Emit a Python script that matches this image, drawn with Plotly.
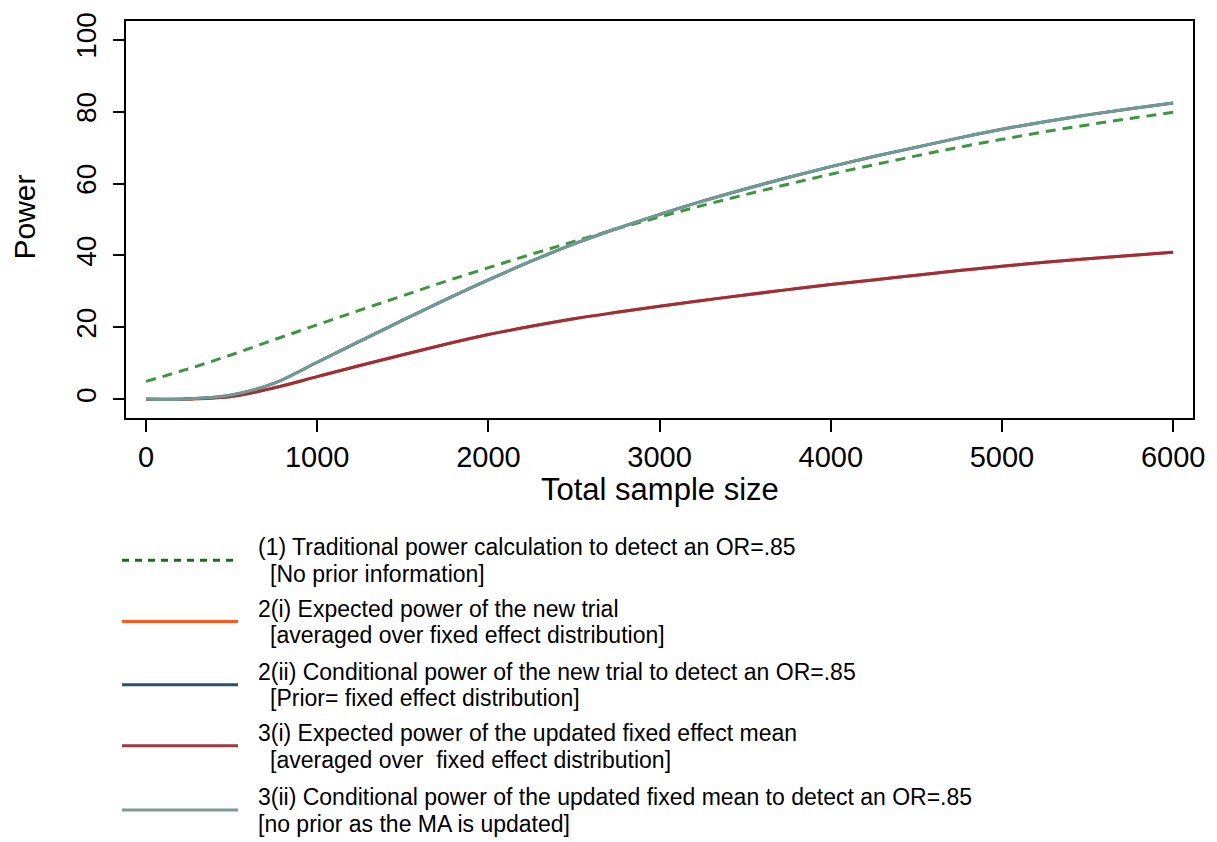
import plotly.graph_objects as go

# Total sample size grid
sample_size = [0, 250, 500, 750, 1000, 1250, 1500, 1750, 2000, 2250, 2500, 2750,
               3000, 3250, 3500, 3750, 4000, 4250, 4500, 4750, 5000, 5250, 5500,
               5750, 6000]

# (1) Traditional power calculation, OR=.85
power_traditional = [5.0, 8.5, 12.4, 16.6, 20.7, 24.8, 28.8, 32.8, 36.6, 40.3, 43.9,
                     47.4, 50.7, 53.9, 56.9, 59.8, 62.6, 65.2, 67.7, 70.1, 72.3,
                     74.4, 76.3, 78.1, 79.8]

# 2(i) / 3(i) expected power (averaged over fixed effect distribution)
power_expected = [0.0, 0.1, 0.8, 3.2, 6.3, 9.4, 12.4, 15.3, 18.0, 20.3, 22.4, 24.2,
                  25.9, 27.5, 29.0, 30.5, 31.9, 33.2, 34.5, 35.8, 37.0, 38.1, 39.1,
                  40.0, 40.9]

# 2(ii) / 3(ii) conditional power to detect OR=.85
power_conditional = [0.0, 0.1, 1.2, 4.5, 10.3, 16.2, 22.0, 27.7, 33.2, 38.4, 43.2,
                     47.5, 51.4, 55.1, 58.5, 61.7, 64.7, 67.5, 70.1, 72.7, 75.1,
                     77.2, 79.1, 80.8, 82.4]

y_ticks = [0, 20, 40, 60, 80, 100]
x_ticks = [0, 1000, 2000, 3000, 4000, 5000, 6000]

legend_rows = [
    ("(1) Traditional power calculation to detect an OR=.85", "[No prior information]", True),
    ("2(i) Expected power of the new trial", "[averaged over fixed effect distribution]", True),
    ("2(ii) Conditional power of the new trial to detect an OR=.85", "[Prior= fixed effect distribution]", True),
    ("3(i) Expected power of the updated fixed effect mean", "[averaged over  fixed effect distribution]", True),
    ("3(ii) Conditional power of the updated fixed mean to detect an OR=.85", "[no prior as the MA is updated]", False),
]
legend_colors = ["#1e6b1e", "#ff5a1f", "#2b4e78", "#9a3a45", "#7a9c94"]
legend_dash = ["7px,6px", "solid", "solid", "solid", "solid"]

FONT = "Liberation Sans, Arial, sans-serif"
W, H = 1217, 842
L, R, T, B = 126, 1193, 16, 418   # plot area in pixels


def px_x(px):
    return (px - L) / (R - L)


def px_y(py):
    return (B - py) / (B - T)


fig = go.Figure()

fig.add_trace(go.Scatter(x=sample_size, y=power_expected, mode="lines",
                         line=dict(color="#ff5a1f", width=3, shape="spline"),
                         showlegend=False, name="2(i)"))
fig.add_trace(go.Scatter(x=sample_size, y=power_conditional, mode="lines",
                         line=dict(color="#2b4e78", width=3, shape="spline"),
                         showlegend=False, name="2(ii)"))
fig.add_trace(go.Scatter(x=sample_size, y=power_traditional, mode="lines",
                         line=dict(color="#3f9440", width=3, dash="10px,7px", shape="spline"),
                         showlegend=False, name="(1)"))
fig.add_trace(go.Scatter(x=sample_size, y=power_expected, mode="lines",
                         line=dict(color="#9b2f3a", width=3, shape="spline"),
                         showlegend=False, name="3(i)"))
fig.add_trace(go.Scatter(x=sample_size, y=power_conditional, mode="lines",
                         line=dict(color="#719a90", width=3, shape="spline"),
                         showlegend=False, name="3(ii)"))

shapes = []
annotations = []

# Legend block below the axes
line_y = [562, 624, 688, 750, 815]
for i, (first, second, indent) in enumerate(legend_rows):
    ly = line_y[i]
    shapes.append(dict(type="line", xref="paper", yref="paper",
                       x0=px_x(122), x1=px_x(238), y0=px_y(ly), y1=px_y(ly),
                       line=dict(color=legend_colors[i], width=3, dash=legend_dash[i])))
    annotations.append(dict(xref="paper", yref="paper", x=px_x(256), y=px_y(ly - 13),
                            text=first, showarrow=False, xanchor="left", yanchor="middle",
                            font=dict(family=FONT, size=23, color="black")))
    annotations.append(dict(xref="paper", yref="paper",
                            x=px_x(268 if indent else 256), y=px_y(ly + 14),
                            text=second, showarrow=False, xanchor="left", yanchor="middle",
                            font=dict(family=FONT, size=23, color="black")))

# Axis titles
annotations.append(dict(xref="paper", yref="paper", x=px_x(660), y=px_y(490),
                        text="Total sample size", showarrow=False,
                        xanchor="center", yanchor="middle",
                        font=dict(family=FONT, size=31, color="black")))
annotations.append(dict(xref="paper", yref="paper", x=px_x(25), y=px_y(215),
                        text="Power", showarrow=False, textangle=-90,
                        xanchor="center", yanchor="middle",
                        font=dict(family=FONT, size=30, color="black")))

fig.update_layout(
    width=W, height=H,
    margin=dict(l=L, r=W - R, t=T, b=H - B),
    paper_bgcolor="white", plot_bgcolor="white",
    shapes=shapes, annotations=annotations,
    showlegend=False,
)

fig.update_xaxes(range=[-117, 6116], tickvals=x_ticks, ticktext=[str(v) for v in x_ticks],
                 showgrid=False, zeroline=False, showline=True, mirror=True,
                 linecolor="black", linewidth=2, ticks="outside", ticklen=12,
                 tickwidth=2, tickcolor="black", ticklabelstandoff=0,
                 tickfont=dict(family=FONT, size=29, color="black"))
fig.update_yaxes(range=[-5.2, 105.2], tickvals=y_ticks, ticktext=[str(v) for v in y_ticks],
                 showgrid=False, zeroline=False, showline=True, mirror=True,
                 linecolor="black", linewidth=2, ticks="outside", ticklen=11,
                 tickwidth=2, tickcolor="black", tickangle=-90, ticklabelstandoff=6,
                 tickfont=dict(family=FONT, size=28, color="black"))

fig.write_html("out.html")
